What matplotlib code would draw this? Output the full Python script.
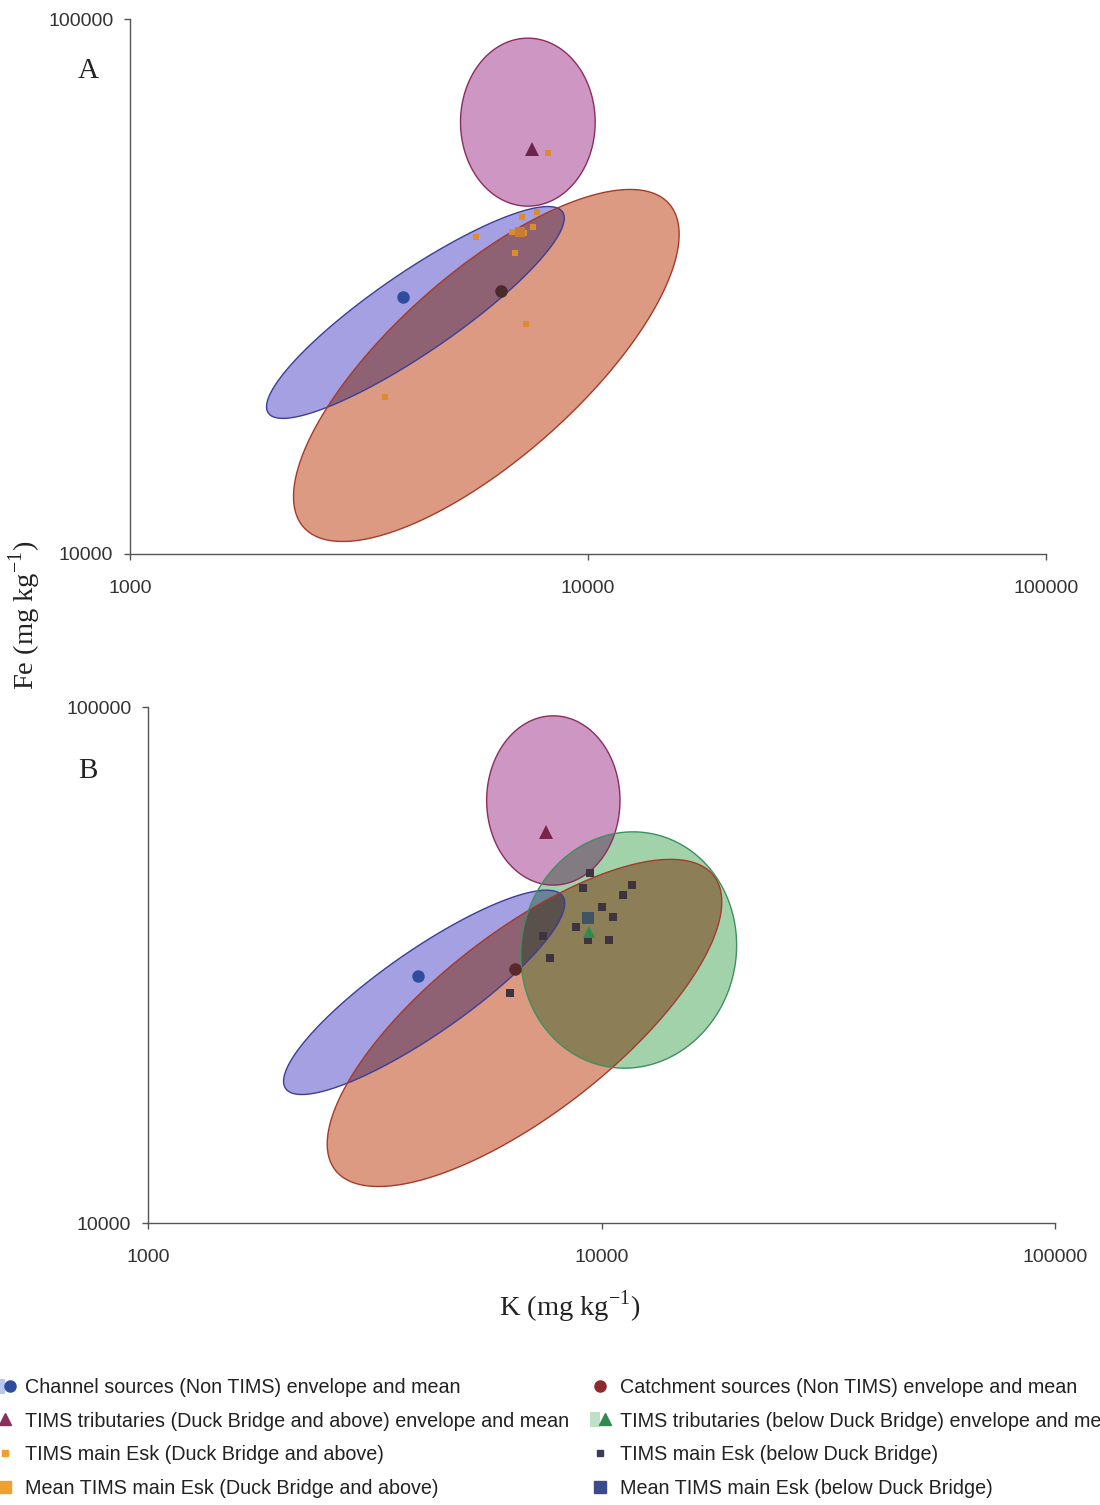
import numpy as np
import matplotlib
matplotlib.use('Agg')
import matplotlib.pyplot as plt
from matplotlib.lines import Line2D
from matplotlib.patches import Patch
from matplotlib.legend_handler import HandlerTuple
from matplotlib.ticker import FixedLocator, FixedFormatter, NullLocator
from itertools import combinations

plt.rcParams['font.family'] = ['Liberation Sans', 'DejaVu Sans']

# ── 1. Data (K and Fe, mg/kg) ────────────────────────────────────────────────
# envelopes: centre K, centre Fe, half-width / half-height (log decades), tilt (corr.)
# order: channel, catchment, tribs above Duck Bridge, tribs below Duck Bridge
envA_k   = [4199, 5998, 7390]
envA_fe  = [28280, 22510, 64150]
envA_hw  = [0.325, 0.421, 0.147]
envA_hh  = [0.198, 0.329, 0.157]
envA_rho = [0.89, 0.745, 0.0]

envB_k   = [4064, 6764, 7830, 11480]
envB_fe  = [27990, 24420, 65900, 33810]
envB_hw  = [0.310, 0.435, 0.147, 0.238]
envB_hh  = [0.198, 0.317, 0.164, 0.229]
envB_rho = [0.87, 0.74, 0.0, 0.04]

env_fill = ['#a5a0e1', '#dc9a82', '#cd96c3', '#a2d2aa']
env_edge = ['#3d3d99', '#a63a2a', '#8c2d5e', '#3f8f5f']

# source means
channel_mean    = (3940, 30170)
catchment_mean  = (6460, 31050)
trib_above_mean = (7550, 57200)
trib_below_mean = (9385, 36640)

# TIMS main Esk (Duck Bridge and above) - panel A
esk_above_k  = [8179, 5694, 7177, 7738, 6823, 7248, 7585, 6928, 7324, 3604]
esk_above_fe = [56170, 39130, 42650, 43580, 39990, 39810, 40850, 36520, 26910, 19660]
esk_above_mean = (7105, 39990)

# TIMS main Esk (below Duck Bridge) - panel B
esk_below_k  = [9432, 9105, 11680, 11150, 10030, 10600, 8785, 9337, 10390, 7430, 7697, 6284]
esk_below_fe = [47690, 44600, 45190, 43220, 40960, 39170, 37470, 35360, 35360, 35990, 32630, 27910]
esk_below_mean = (9337, 39000)


# ── 2. Helpers ───────────────────────────────────────────────────────────────
def envelope(k, fe, hw, hh, rho, n=240):
    t = np.linspace(0, 2 * np.pi, n, endpoint=False)
    lx = np.log10(k) + hw * np.cos(t)
    ly = np.log10(fe) + hh * (rho * np.cos(t) + np.sqrt(1 - rho**2) * np.sin(t))
    return np.column_stack([lx, ly])


def clip_convex(subject, clipper):
    # Sutherland-Hodgman, clipper is convex and counter-clockwise
    out = list(subject)
    n = len(clipper)
    for i in range(n):
        a, b = clipper[i], clipper[(i + 1) % n]
        inp, out = out, []
        if not inp:
            break
        side = lambda p: (b[0]-a[0])*(p[1]-a[1]) - (b[1]-a[1])*(p[0]-a[0])
        s = inp[-1]
        for p in inp:
            ds, dp = side(s), side(p)
            if dp >= 0:
                if ds < 0:
                    out.append(s + ds / (ds - dp) * (p - s))
                out.append(p)
            elif ds >= 0:
                out.append(s + ds / (ds - dp) * (p - s))
            s = p
    return np.array(out)


def draw_envelopes(ax, ks, fes, hws, hhs, rhos):
    polys = [envelope(*p) for p in zip(ks, fes, hws, hhs, rhos)]
    rgb = [np.array(matplotlib.colors.to_rgb(c)) for c in env_fill]
    # multiply-style blending where envelopes overlap
    for r in range(1, len(polys) + 1):
        for combo in combinations(range(len(polys)), r):
            poly = polys[combo[0]]
            for j in combo[1:]:
                poly = clip_convex(poly, polys[j])
                if len(poly) < 3:
                    break
            if len(poly) < 3:
                continue
            col = np.prod([rgb[j] for j in combo], axis=0)
            ax.fill(10**poly[:, 0], 10**poly[:, 1], color=col, lw=0, zorder=1)
    for i, p in enumerate(polys):
        ax.fill(10**p[:, 0], 10**p[:, 1], fill=False, ec=env_edge[i], lw=1.0, zorder=2)


def style_axis(ax):
    ax.set_xscale('log'); ax.set_yscale('log')
    ax.set_xlim(1000, 100000); ax.set_ylim(10000, 100000)
    for s in ['top', 'right']:
        ax.spines[s].set_visible(False)
    for s in ['left', 'bottom']:
        ax.spines[s].set_color('#555555'); ax.spines[s].set_linewidth(1.0)
    ax.xaxis.set_major_locator(FixedLocator([1000, 10000, 100000]))
    ax.xaxis.set_major_formatter(FixedFormatter(['1000', '10000', '100000']))
    ax.yaxis.set_major_locator(FixedLocator([10000, 100000]))
    ax.yaxis.set_major_formatter(FixedFormatter(['10000', '100000']))
    ax.xaxis.set_minor_locator(NullLocator()); ax.yaxis.set_minor_locator(NullLocator())
    ax.tick_params(axis='x', length=4, width=1, color='#555555', pad=15,
                   labelsize=14, labelcolor='#333333')
    ax.tick_params(axis='y', length=4, width=1, color='#555555', pad=8,
                   labelsize=14, labelcolor='#333333')


# ── 3. Plot ──────────────────────────────────────────────────────────────────
fig = plt.figure(figsize=(11, 15.05), dpi=100)
axA = fig.add_axes([130/1100, 1 - 554/1505, 916/1100, 535/1505])
axB = fig.add_axes([148/1100, 1 - 1223/1505, 907/1100, 516/1505])

# Panel A
style_axis(axA)
draw_envelopes(axA, envA_k, envA_fe, envA_hw, envA_hh, envA_rho)
axA.plot(esk_above_k, esk_above_fe, 's', color='#e08a2e', ms=4.5, mew=0, zorder=3)
axA.plot(*esk_above_mean, 's', color='#c77b34', ms=7, mew=0, zorder=3)
axA.plot(*channel_mean, 'o', color='#2f4c9e', ms=9, mew=0, zorder=4)
axA.plot(*catchment_mean, 'o', color='#4a2a2a', ms=9, mew=0, zorder=4)
axA.plot(*trib_above_mean, '^', color='#6e2448', ms=10, mew=0, zorder=4)

# Panel B
style_axis(axB)
draw_envelopes(axB, envB_k, envB_fe, envB_hw, envB_hh, envB_rho)
axB.plot(esk_below_k, esk_below_fe, 's', color='#3d3440', ms=6, mew=0, zorder=3)
axB.plot(*esk_below_mean, 's', color='#3f5566', ms=9, mew=0, zorder=3)
axB.plot(*channel_mean, 'o', color='#2f4c9e', ms=9, mew=0, zorder=4)
axB.plot(*catchment_mean, 'o', color='#5a2a2a', ms=9, mew=0, zorder=4)
axB.plot(*trib_above_mean, '^', color='#7a2448', ms=10, mew=0, zorder=4)
axB.plot(*trib_below_mean, '^', color='#2f8a4f', ms=9, mew=0, zorder=4)

# Labels
serif = ['Liberation Serif', 'DejaVu Serif']
fig.text(88/1100, 1 - 71/1505, 'A', family=serif, fontsize=21, ha='center', va='center', color='#222222')
fig.text(88/1100, 1 - 771/1505, 'B', family=serif, fontsize=21, ha='center', va='center', color='#222222')
fig.text(25/1100, 1 - 615/1505, r'Fe (mg kg$^{\mathregular{-1}}$)', family=serif, fontsize=20.5,
         rotation=90, ha='center', va='center', color='#222222')
fig.text(570/1100, 1 - 1307/1505, r'K (mg kg$^{\mathregular{-1}}$)', family=serif, fontsize=20.5,
         ha='center', va='center', color='#222222')

# Legend (two columns, drawn as two legends for exact placement)
h_channel = (Patch(fc='#b8c8f0', ec='none'), Line2D([], [], ls='', marker='o', color='#2f4c9e', ms=8))
h_trib_a  = Line2D([], [], ls='', marker='^', color='#8c2d5e', ms=9)
h_esk_a   = Line2D([], [], ls='', marker='s', color='#f0a030', ms=4)
h_esk_am  = Line2D([], [], ls='', marker='s', color='#f0a030', ms=8)
h_catch   = Line2D([], [], ls='', marker='o', color='#8b2a2a', ms=8)
h_trib_b  = (Patch(fc='#bfe0c8', ec='none'), Line2D([], [], ls='', marker='^', color='#2f8a4f', ms=9))
h_esk_b   = Line2D([], [], ls='', marker='s', color='#3a3a5a', ms=4)
h_esk_bm  = Line2D([], [], ls='', marker='s', color='#3a4a8a', ms=8)

leg_kw = dict(loc='upper left', frameon=False, fontsize=14.2, borderpad=0, borderaxespad=0,
              handlelength=1.0, handleheight=0.8, handletextpad=0.5, labelspacing=0.74,
              handler_map={tuple: HandlerTuple(ndivide=None, pad=0)})
leg1 = fig.legend([h_channel, h_trib_a, h_esk_a, h_esk_am],
                  ['Channel sources (Non TIMS) envelope and mean',
                   'TIMS tributaries (Duck Bridge and above) envelope and mean',
                   'TIMS main Esk (Duck Bridge and above)',
                   'Mean TIMS main Esk (Duck Bridge and above)'],
                  bbox_to_anchor=(-5/1100, 1 - 1378/1505), **leg_kw)
leg2 = fig.legend([h_catch, h_trib_b, h_esk_b, h_esk_bm],
                  ['Catchment sources (Non TIMS) envelope and mean',
                   'TIMS tributaries (below Duck Bridge) envelope and mean',
                   'TIMS main Esk (below Duck Bridge)',
                   'Mean TIMS main Esk (below Duck Bridge)'],
                  bbox_to_anchor=(590/1100, 1 - 1378/1505), **leg_kw)
for leg in (leg1, leg2):
    for t in leg.get_texts():
        t.set_color('#222222')

fig.savefig('out.png', dpi=100)
